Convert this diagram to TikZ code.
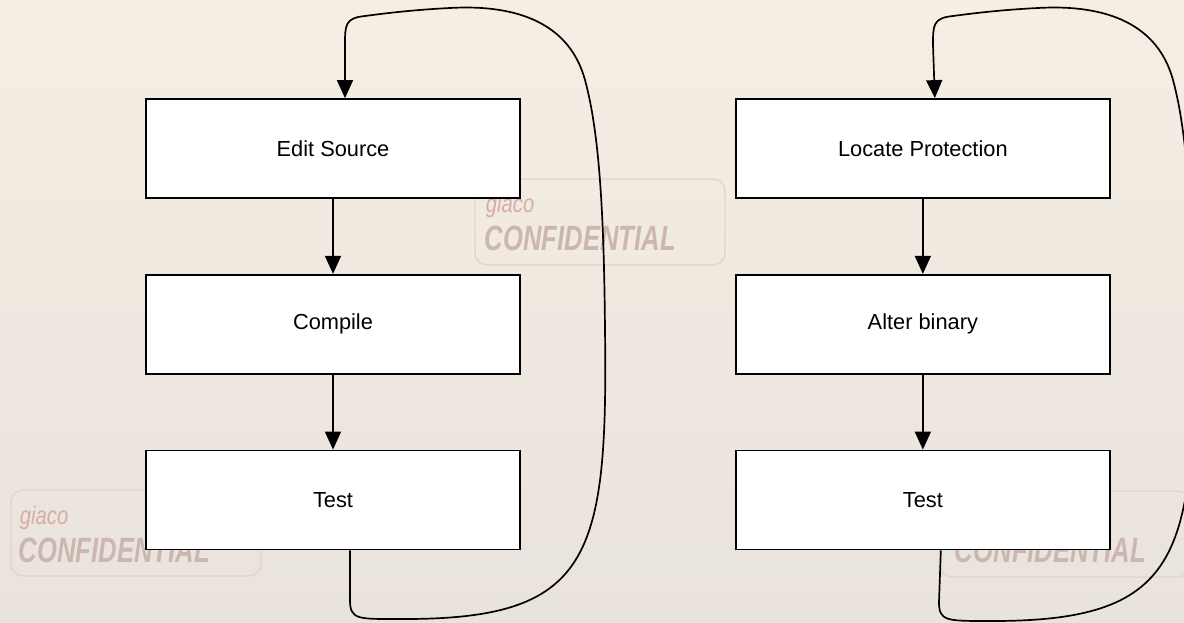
\documentclass[tikz,border=0pt]{standalone}
\usepackage{fontspec}
\setmainfont{Liberation Sans}
\usepackage{tikz}
\usetikzlibrary{positioning,arrows.meta}
\definecolor{paperlight}{RGB}{245,238,227}
\definecolor{paperdark}{RGB}{233,227,221}
\definecolor{markpink}{RGB}{214,172,168}
\definecolor{markgrey}{RGB}{204,182,176}
\definecolor{markedge}{RGB}{226,212,202}

\begin{document}
\begin{tikzpicture}[x=0.025cm, y=-0.025cm,
  stepbox/.style={draw, line width=1.2pt, fill=white, minimum width=9.35cm, minimum height=2.475cm, font=\fontsize{15.5}{18}\selectfont},
  flow/.style={-{Triangle[length=4.5mm,width=4mm]}, line width=1.2pt},
  markbox/.style={draw=markedge, line width=1pt, rounded corners=3mm, minimum width=6.25cm, minimum height=2.15cm},
  marktop/.style={anchor=west, text=markpink, font=\fontsize{18}{20}\selectfont\itshape},
  markbig/.style={anchor=west, text=markgrey, font=\fontsize{25}{28}\selectfont\bfseries\itshape}]
  \useasboundingbox (0,0) rectangle (1184,623);
  \clip (0,0) rectangle (1184,623);
  \shade[top color=paperlight, bottom color=paperdark] (0,0) rectangle (1184,623);

  % watermarks in the paper
  \node[markbox] (mark1) at (600,222) {};
  \node[marktop] (giaco1) at (481,206) {\scalebox{0.8}[1]{giaco}};
  \node[markbig] (conf1) at (480,238) {\scalebox{0.73}[1]{CONFIDENTIAL}};
  \node[markbox] (mark2) at (136,533) {};
  \node[marktop] (giaco2) at (15,518) {\scalebox{0.8}[1]{giaco}};
  \node[markbig] (conf2) at (14,550) {\scalebox{0.73}[1]{CONFIDENTIAL}};
  \node[markbox] (mark3) at (1065,534) {};
  \node[markbig] (conf3) at (950,550) {\scalebox{0.73}[1]{CONFIDENTIAL}};

  % source build cycle
  \node[stepbox] (edit) at (333,148.5) {Edit Source};
  \node[stepbox, below=1.875cm of edit] (compile) {Compile};
  \node[stepbox, below=1.875cm of compile] (test) {Test};

  % binary patch cycle
  \node[stepbox, right=5.35cm of edit] (locate) {Locate Protection};
  \node[stepbox, below=1.875cm of locate] (alter) {Alter binary};
  \node[stepbox, below=1.875cm of alter] (retest) {Test};

  \draw[flow] (edit) -- (compile);
  \draw[flow] (compile) -- (test);
  \draw[flow] (locate) -- (alter);
  \draw[flow] (alter) -- (retest);

  \draw[flow] ([xshift=4.25mm]test.south) -- (350,600) .. controls (350,620) and (358,619) .. (400,619)
    .. controls (590,620) and (608,560) .. (605,330) .. controls (604,220) and (600,135) .. (585,80)
    .. controls (570,25) and (520,4) .. (450,8) .. controls (410,10) and (380,14) .. (365,16)
    .. controls (345,18) and (345,25) .. (345,45) -- ([xshift=3mm]edit.north);
  \draw[flow] ([xshift=4.5mm]retest.south) -- (939,602) .. controls (939,621) and (946,621) .. (988,621)
    .. controls (1178,622) and (1196,560) .. (1193,330) .. controls (1192,220) and (1188,135) .. (1173,80)
    .. controls (1158,25) and (1108,4) .. (1038,8) .. controls (998,10) and (968,14) .. (953,16)
    .. controls (933,18) and (933,25) .. (933,45) -- ([xshift=3mm]locate.north);
\end{tikzpicture}
\end{document}
